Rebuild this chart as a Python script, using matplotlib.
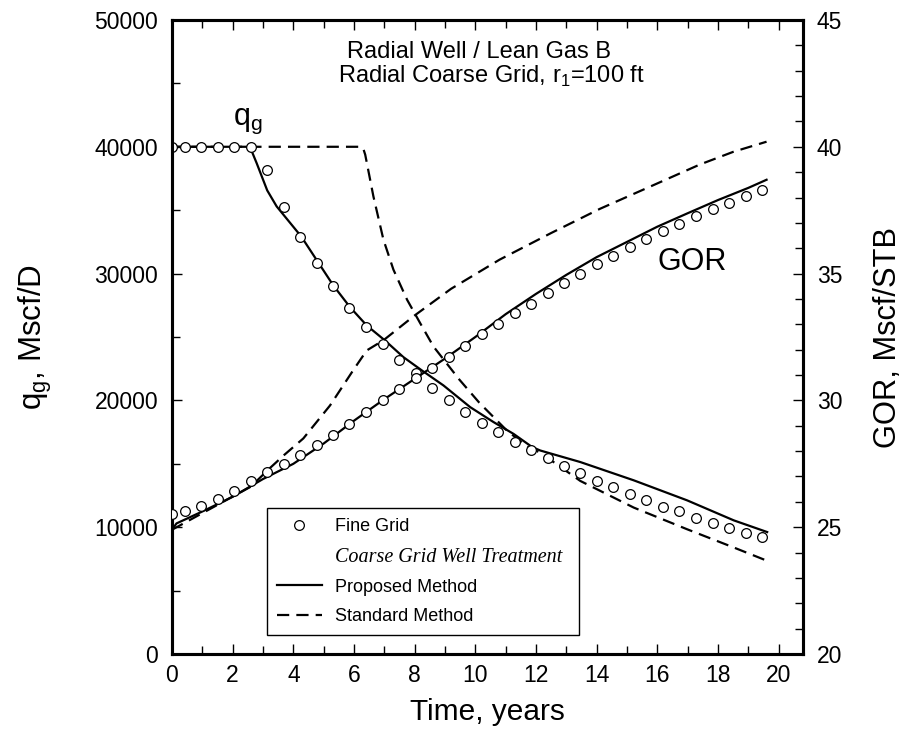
import matplotlib
matplotlib.use("Agg")
import matplotlib.pyplot as plt
from matplotlib.lines import Line2D
from matplotlib.font_manager import FontProperties
from matplotlib.ticker import MultipleLocator

plt.rcParams['font.family'] = 'Liberation Sans'
plt.rcParams['mathtext.fontset'] = 'custom'
plt.rcParams['mathtext.rm'] = 'Liberation Sans'

# fine grid reference run (symbols)
time_fine = [0.0, 0.42, 0.96, 1.51, 2.06, 2.60, 3.13, 3.68, 4.23, 4.78, 5.30, 5.85,
             6.40, 6.95, 7.48, 8.03, 8.58, 9.13, 9.67, 10.22, 10.75, 11.30, 11.84,
             12.38, 12.91, 13.45, 14.00, 14.55, 15.10, 15.63, 16.17, 16.72, 17.27,
             17.82, 18.36, 18.91, 19.46]
qg_fine = [40000, 40000, 40000, 40000, 40000, 40000, 38190, 35250, 32860, 30810,
           29000, 27300, 25800, 24460, 23170, 22130, 20970, 20000, 19080, 18240,
           17480, 16750, 16090, 15430, 14830, 14280, 13680, 13150, 12620, 12130,
           11630, 11240, 10760, 10370, 9950, 9550, 9210]
gor_fine = [25.53, 25.62, 25.83, 26.13, 26.43, 26.84, 27.18, 27.49, 27.86, 28.26,
            28.65, 29.07, 29.54, 30.01, 30.46, 30.87, 31.27, 31.70, 32.14, 32.60,
            33.03, 33.43, 33.82, 34.24, 34.63, 35.00, 35.38, 35.71, 36.05, 36.38,
            36.67, 36.97, 37.26, 37.55, 37.80, 38.06, 38.31]

# coarse grid, proposed well treatment
time_prop_q = [0, 2.57, 2.79, 3.14, 3.45, 4.26, 5.32, 5.87, 6.42, 7.02, 7.63, 8.24,
               8.95, 9.83, 10.6, 11.26, 11.88, 12.14, 13.46, 15.22, 16.98, 18.52, 19.62]
qg_prop = [40000, 40000, 38720, 36560, 35300, 32930, 29060, 27350, 25910, 24730,
           23410, 22360, 21180, 19470, 18290, 17360, 16310, 16050, 15140, 13700,
           12120, 10540, 9620]
time_prop_gor = [0, 0.15, 1, 2, 3, 4, 5, 6, 7, 8, 9, 10, 11, 12, 13, 14, 15, 16,
                 17, 18, 19, 19.6]
gor_prop = [24.9, 25.15, 25.62, 26.2, 26.9, 27.5, 28.3, 29.2, 30.05, 30.85, 31.65,
            32.5, 33.4, 34.2, 34.95, 35.65, 36.25, 36.85, 37.38, 37.9, 38.38, 38.7]

# coarse grid, standard well treatment
time_std_q = [0, 6.2, 6.3, 6.37, 6.64, 6.97, 7.30, 7.75, 8.18, 8.62, 9.47, 10.13,
              11.0, 11.67, 12.14, 13.46, 15.22, 16.98, 18.52, 19.62]
qg_std = [40000, 40000, 39900, 39380, 36090, 32680, 30310, 27940, 26100, 24250,
          21650, 19820, 17720, 16400, 15880, 13650, 11550, 9840, 8400, 7350]
time_std_gor = [0, 2.6, 3.2, 3.7, 4.33, 5.21, 5.98, 6.42, 6.97, 8.0, 9.2, 10.8,
                12.5, 14.1, 15.8, 17.4, 18.5, 19.6]
gor_std = [24.9, 26.6, 27.3, 27.85, 28.5, 29.8, 31.2, 31.97, 32.37, 33.35, 34.4,
           35.55, 36.6, 37.55, 38.45, 39.3, 39.8, 40.2]

fig = plt.figure(figsize=(9.07, 7.45), dpi=100)
ax = fig.add_axes([0.1896, 0.1221, 0.6957, 0.8511])
ax2 = ax.twinx()

lw = 1.6
dash = (0, (5.5, 3.2))
mk = dict(marker='o', ms=7, mfc='white', mec='black', mew=0.9, ls='none')

ax.plot(time_std_q, qg_std, color='black', lw=lw, ls=dash, zorder=2)
ax.plot(time_prop_q, qg_prop, color='black', lw=lw, zorder=3)
ax.plot(time_fine, qg_fine, zorder=4, **mk)

ax2.plot(time_std_gor, gor_std, color='black', lw=lw, ls=dash, zorder=2)
ax2.plot(time_prop_gor, gor_prop, color='black', lw=lw, zorder=3)
ax2.plot(time_fine, gor_fine, zorder=4, **mk)

ax.set_xlim(0, 20.8)
ax.set_ylim(0, 50000)
ax2.set_ylim(20, 45)

ax.xaxis.set_major_locator(MultipleLocator(2))
ax.xaxis.set_minor_locator(MultipleLocator(1))
ax.yaxis.set_major_locator(MultipleLocator(10000))
ax.yaxis.set_minor_locator(MultipleLocator(5000))
ax2.yaxis.set_major_locator(MultipleLocator(5))
ax2.yaxis.set_minor_locator(MultipleLocator(1))

ax.tick_params(which='both', direction='in', top=True, right=False, width=1.0,
               labelsize=16.5)
ax.tick_params(which='major', length=7, pad=10)
ax.tick_params(which='minor', length=6)
ax.tick_params(axis='x', which='major', pad=7)
ax2.tick_params(which='both', direction='in', width=1.0, labelsize=16.5)
ax2.tick_params(which='major', length=7.5, pad=10)
ax2.tick_params(which='minor', length=6)

for a in (ax, ax2):
    for s in a.spines.values():
        s.set_linewidth(2.2)

ax.set_xlabel('Time, years', fontsize=21.5, labelpad=8)
ax.set_ylabel(r'q$_\mathregular{g}$, Mscf/D', fontsize=22.5, labelpad=29)
ax2.set_ylabel('GOR, Mscf/STB', fontsize=22.2, labelpad=22)

ax.text(5.78, 47450, 'Radial Well / Lean Gas B', fontsize=17, ha='left', va='center')
ax.text(5.48, 45550, r'Radial Coarse Grid, r$_\mathregular{1}$=100 ft', fontsize=17,
        ha='left', va='center')
ax.text(2.5, 42000, r'q$_\mathregular{g}$', fontsize=22, ha='center', va='center')
ax2.text(17.14, 35.45, 'GOR', fontsize=22, ha='center', va='center')

handles = [Line2D([], [], **mk),
           Line2D([], [], ls='none'),
           Line2D([], [], color='black', lw=lw),
           Line2D([], [], color='black', lw=lw, ls=dash)]
labels = ['Fine Grid', 'Coarse Grid Well Treatment', 'Proposed Method', 'Standard Method']
leg = ax2.legend(handles, labels, loc='lower left',
                 bbox_to_anchor=(0.150, 0.030, 0.495, 0.199), mode='expand',
                 borderaxespad=0, fontsize=13, handlelength=2.5, handletextpad=0.75,
                 labelspacing=0.68, borderpad=0.55, fancybox=False, framealpha=1,
                 edgecolor='black')
leg.get_frame().set_linewidth(1.0)
leg.get_texts()[1].set_fontproperties(
    FontProperties(family='Liberation Serif', style='italic', size=14.5))

fig.savefig('out.png', dpi=100)
